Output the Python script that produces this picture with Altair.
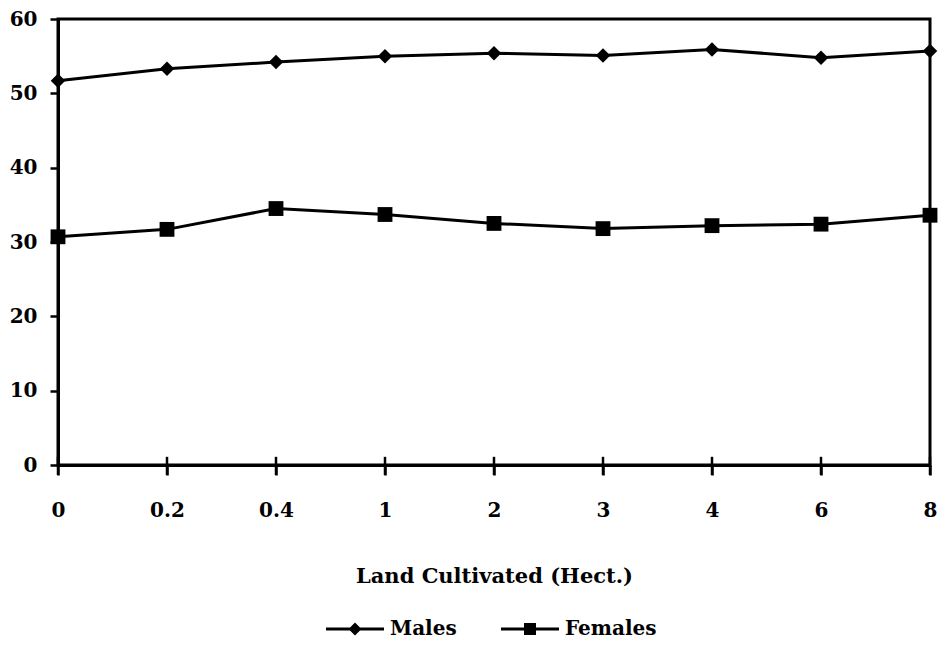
import altair as alt
import pandas as pd

land = ["0", "0.2", "0.4", "1", "2", "3", "4", "6", "8"]
males = [51.7, 53.3, 54.2, 55.0, 55.4, 55.1, 55.9, 54.8, 55.7]
females = [30.7, 31.7, 34.5, 33.7, 32.5, 31.8, 32.2, 32.4, 33.6]
series = ["Males", "Females"]
y_ticks = [0, 10, 20, 30, 40, 50, 60]

df = pd.DataFrame({
    "land": land * 2,
    "value": males + females,
    "series": [series[0]] * len(land) + [series[1]] * len(land),
})
tick_df = pd.DataFrame({"land": land, "lo": [-1.35] * len(land), "hi": [1.1] * len(land)})

FONT = "DejaVu Serif"

x_enc = alt.X(
    "land:N",
    sort=land,
    scale=alt.Scale(type="point", padding=0),
    axis=alt.Axis(
        title="Land Cultivated (Hect.)",
        labelAngle=0,
        labelFont=FONT,
        labelFontSize=20,
        labelFontWeight="bold",
        labelPadding=25,
        tickSize=10,
        titleFont=FONT,
        titleFontSize=21,
        titleFontWeight="bold",
        titleBaseline="middle",
        titleY=111,
    ),
)
y_enc = alt.Y(
    "value:Q",
    scale=alt.Scale(domain=[0, 60], nice=False),
    axis=alt.Axis(
        values=y_ticks,
        title=None,
        labelFont=FONT,
        labelFontSize=20,
        labelFontWeight="bold",
        labelPadding=13,
        tickSize=8,
    ),
)

base = alt.Chart(df).encode(x=x_enc, y=y_enc)

lines = base.mark_line(color="black", strokeWidth=3).encode(detail="series:N")

male_pts = base.transform_filter(alt.datum.series == "Males").mark_point(
    shape="diamond", filled=True, color="black", size=210, opacity=1
)
female_pts = base.transform_filter(alt.datum.series == "Females").mark_point(
    shape="square", filled=True, color="black", size=220, opacity=1
)

# legend glyphs: a short bar with the marker on it (all sub-paths clockwise)
p_m = "M-2.9,-0.14H2.9V0.14H-2.9ZM0,-0.65L0.65,0L0,0.65L-0.65,0Z"
p_f = "M-2.9,-0.14H2.9V0.14H-2.9ZM-0.6,-0.6H0.6V0.6H-0.6Z"

legend_layer = base.mark_point(filled=True, color="black", opacity=0).encode(
    shape=alt.Shape(
        "series:N",
        scale=alt.Scale(domain=series, range=[p_m, p_f]),
        legend=alt.Legend(
            title=None,
            orient="none",
            legendX=287,
            legendY=600,
            direction="horizontal",
            symbolSize=400,
            symbolFillColor="black",
            symbolStrokeColor="black",
            symbolStrokeWidth=0,
            symbolOpacity=1,
            labelFont=FONT,
            labelFontSize=20,
            labelFontWeight="bold",
            labelColor="black",
            labelOffset=25,
            columnPadding=44,
            padding=0,
        ),
    )
)

cross_ticks = alt.Chart(tick_df).mark_rule(color="black", strokeWidth=2.5).encode(
    x=alt.X("land:N", sort=land),
    y=alt.Y("lo:Q"),
    y2="hi:Q",
)

chart = (
    alt.layer(lines, male_pts, female_pts, legend_layer, cross_ticks)
    .properties(
        width=872,
        height=446,
        autosize="none",
        padding={"left": 50, "top": 11, "right": 9, "bottom": 175},
        background="white",
    )
    .configure_view(stroke="black", strokeWidth=3)
    .configure_axis(
        domainColor="black",
        domainWidth=3,
        tickColor="black",
        tickWidth=2.5,
        grid=False,
        labelColor="black",
        titleColor="black",
    )
)

chart.save("out.html", embed_options={"renderer": "svg", "actions": False})
